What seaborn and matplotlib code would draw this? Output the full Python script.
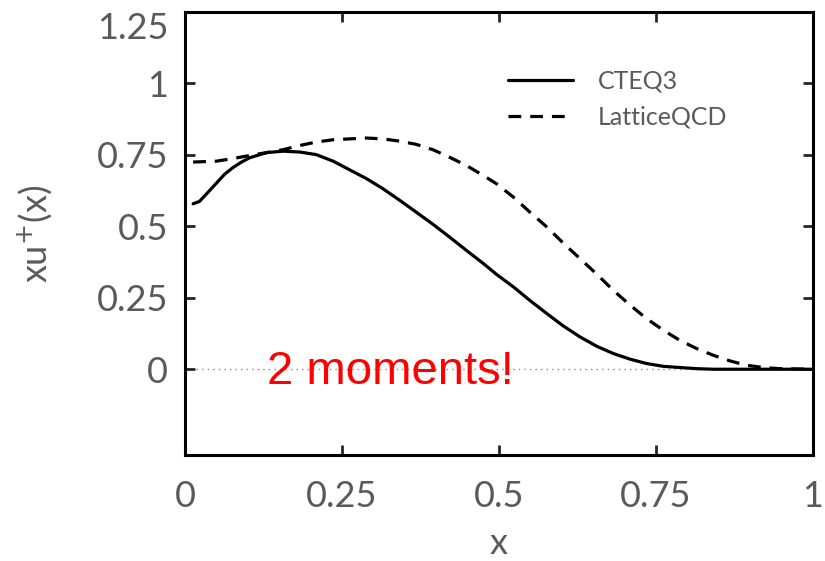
import numpy as np
import pandas as pd
import matplotlib
matplotlib.use('Agg')
import matplotlib.pyplot as plt
import seaborn as sns

# curves
cteq_x = [0.013, 0.023, 0.037, 0.05, 0.063, 0.076, 0.09, 0.103, 0.13, 0.156, 0.183, 0.209,
          0.236, 0.262, 0.289, 0.315, 0.342, 0.368, 0.395, 0.421, 0.448, 0.475, 0.496,
          0.523, 0.549, 0.576, 0.602, 0.629, 0.656, 0.682, 0.709, 0.735, 0.762, 0.788,
          0.815, 0.841, 0.9, 1.0]
cteq_y = [0.579, 0.587, 0.620, 0.651, 0.682, 0.705, 0.725, 0.740, 0.758, 0.763, 0.760, 0.751,
          0.728, 0.698, 0.667, 0.632, 0.591, 0.550, 0.507, 0.463, 0.416, 0.370, 0.332,
          0.288, 0.241, 0.195, 0.152, 0.113, 0.080, 0.055, 0.035, 0.020, 0.010, 0.006,
          0.002, 0.0, 0.0, 0.0]
lqcd_x = [0.013, 0.05, 0.076, 0.103, 0.13, 0.156, 0.183, 0.209, 0.236, 0.262, 0.289, 0.315,
          0.342, 0.368, 0.395, 0.421, 0.448, 0.475, 0.496, 0.523, 0.549, 0.576, 0.602,
          0.629, 0.656, 0.682, 0.709, 0.735, 0.762, 0.788, 0.815, 0.841, 0.868, 0.894,
          0.921, 0.947, 1.0]
lqcd_y = [0.725, 0.728, 0.737, 0.748, 0.758, 0.768, 0.783, 0.795, 0.803, 0.806, 0.809, 0.806,
          0.798, 0.787, 0.768, 0.742, 0.713, 0.678, 0.649, 0.602, 0.550, 0.498, 0.442,
          0.387, 0.332, 0.276, 0.224, 0.177, 0.136, 0.101, 0.072, 0.049, 0.029, 0.014,
          0.006, 0.002, 0.0]

ticks = [0, 0.25, 0.5, 0.75, 1]
tick_labels = ['0', '0.25', '0.5', '0.75', '1']
yticks = [0, 0.25, 0.5, 0.75, 1, 1.25]
ytick_labels = ['0', '0.25', '0.5', '0.75', '1', '1.25']

sns.set_theme(style='ticks')
plt.rcParams['font.family'] = ['Lato', 'DejaVu Sans']
grey = '#5a5a5a'

fig = plt.figure(figsize=(8.25, 5.61), dpi=100)
ax = fig.add_axes([0.2242, 0.189, 0.7613, 0.7896])

cteq = pd.DataFrame({'x': cteq_x, 'y': cteq_y})
lqcd = pd.DataFrame({'x': lqcd_x, 'y': lqcd_y})

ax.axhline(0, color='#888888', lw=1, ls=(0, (1, 3)), zorder=0)
sns.lineplot(data=cteq, x='x', y='y', ax=ax, color='black', lw=2.3, label='CTEQ3')
sns.lineplot(data=lqcd, x='x', y='y', ax=ax, color='black', lw=2.3,
             dashes=False, ls=(0, (4, 2.8)), label='LatticeQCD')

ax.set_xlim(0, 1)
ax.set_ylim(-0.3, 1.25)
ax.set_xticks(ticks)
ax.set_xticklabels(tick_labels)
ax.set_yticks(yticks)
ax.set_yticklabels(ytick_labels)
ax.tick_params(direction='in', length=7, width=2, top=True, right=True,
               labelsize=26, labelcolor=grey, pad=12)
ax.tick_params(axis='x', pad=18)
ax.get_yticklabels()[-1].set_va('top')
for s in ax.spines.values():
    s.set_linewidth(2.2)
    s.set_color('black')

ax.set_xlabel('x', fontsize=26, color=grey, labelpad=10)
ax.set_ylabel('xu$^{+}$(x)', fontsize=26, color=grey, labelpad=30)

leg = ax.legend(loc='upper right', bbox_to_anchor=(0.9, 0.92), frameon=False,
                fontsize=18, handlelength=2.6, handletextpad=1.0, labelspacing=0.5)
for t in leg.get_texts():
    t.set_color(grey)

ax.text(0.327, -0.05, '2 moments!', color='red', fontsize=34, ha='center', va='baseline',
        family='Liberation Sans')

fig.savefig('out.png', dpi=100)
